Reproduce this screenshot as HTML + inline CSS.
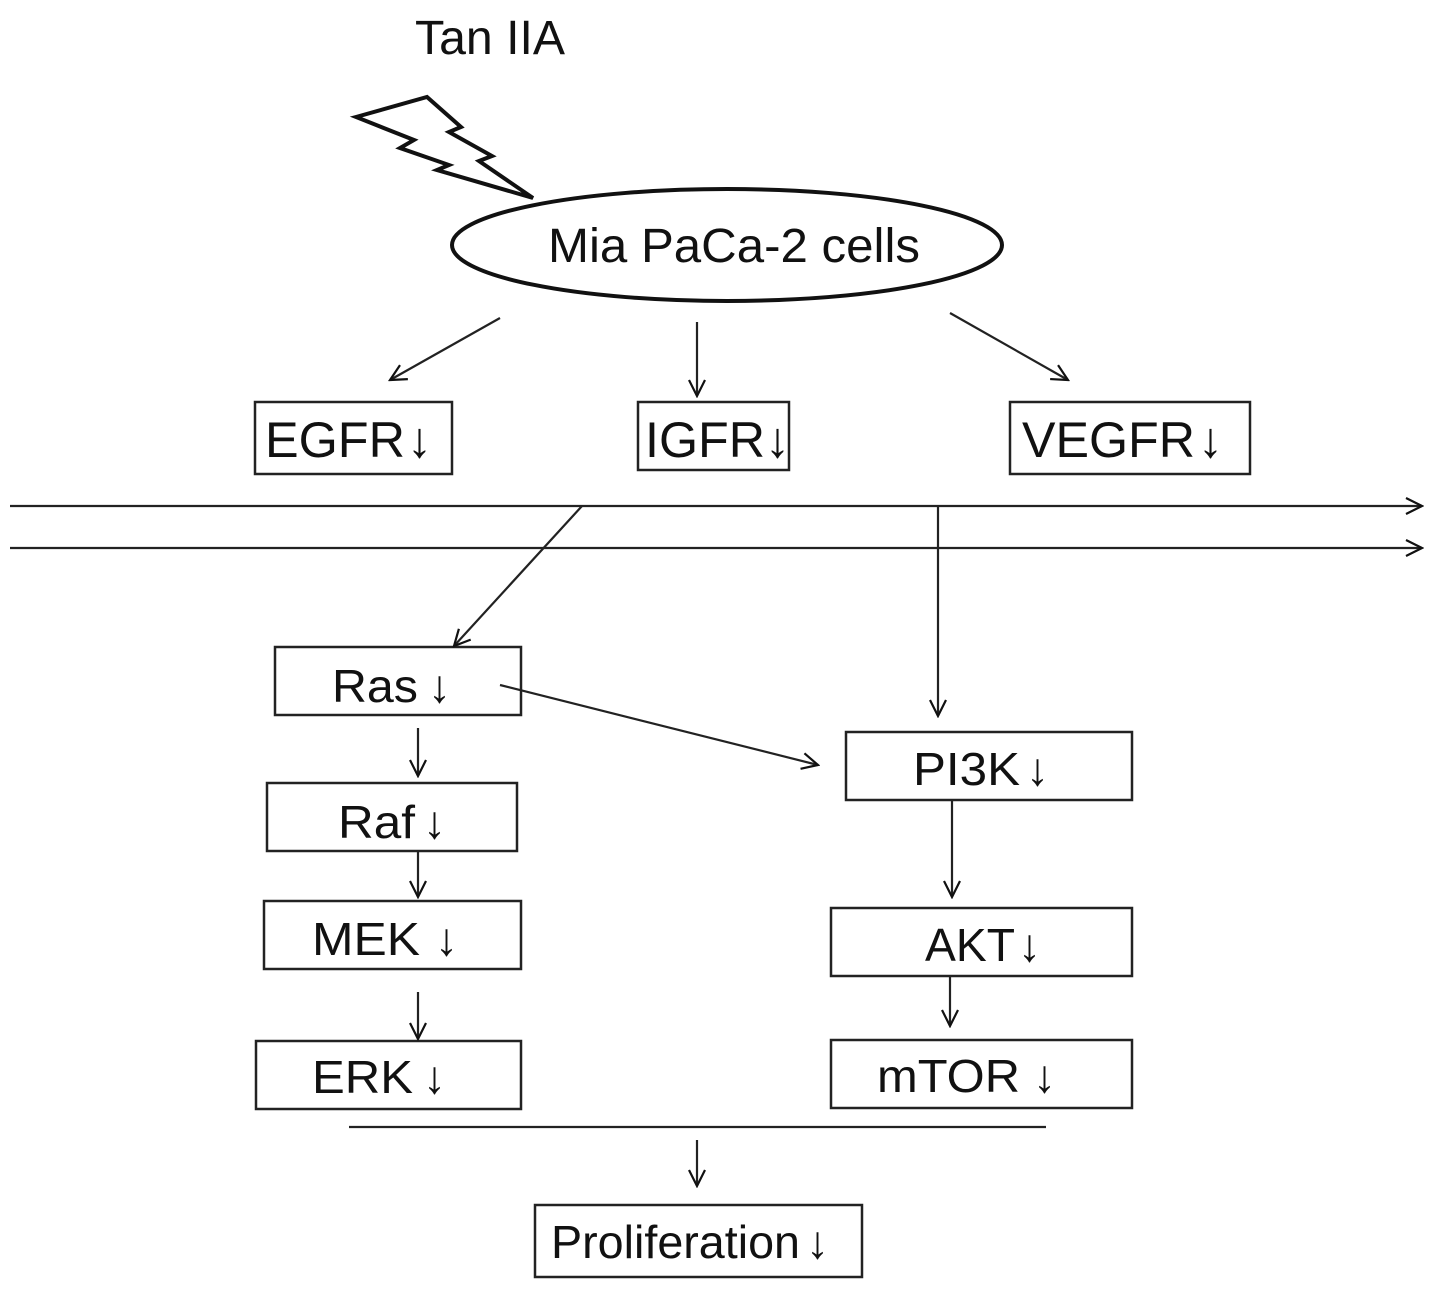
<!DOCTYPE html>
<html><head><meta charset="utf-8"><style>
html,body{margin:0;padding:0;background:#fff}
svg{display:block}
text{font-family:"Liberation Sans",sans-serif;fill:#111}
</style></head><body>
<svg width="1441" height="1293" viewBox="0 0 1441 1293" xmlns="http://www.w3.org/2000/svg">
<defs>
<marker id="a" viewBox="0 0 20 20" refX="18" refY="10" markerWidth="20" markerHeight="20" markerUnits="userSpaceOnUse" orient="auto">
<path d="M2,2 L18,10 L2,18" fill="none" stroke="#111" stroke-width="2.2"/>
</marker>
</defs>
<text x="415" y="54" font-size="48" textLength="150" lengthAdjust="spacingAndGlyphs">Tan IIA</text>
<polygon points="356,117 427,97 461,127 449,132 492,156 479,161 533,198 437,170 449,165 400,148 414,140" fill="none" stroke="#111" stroke-width="4" stroke-linejoin="miter"/>
<ellipse cx="727" cy="245" rx="275" ry="56" fill="none" stroke="#111" stroke-width="4"/>
<text x="548" y="262" font-size="48" textLength="372" lengthAdjust="spacingAndGlyphs">Mia PaCa-2 cells</text>
<g fill="none" stroke="#222" stroke-width="2.5">
<rect x="255" y="402" width="197" height="72"/>
<rect x="638" y="402" width="151" height="68"/>
<rect x="1010" y="402" width="240" height="72"/>
<rect x="275" y="647" width="246" height="68"/>
<rect x="267" y="783" width="250" height="68"/>
<rect x="264" y="901" width="257" height="68"/>
<rect x="256" y="1041" width="265" height="68"/>
<rect x="846" y="732" width="286" height="68"/>
<rect x="831" y="908" width="301" height="68"/>
<rect x="831" y="1040" width="301" height="68"/>
<rect x="535" y="1205" width="327" height="72"/>
</g>
<g font-size="50">
<text x="265" y="457" textLength="140" lengthAdjust="spacingAndGlyphs">EGFR</text><text x="407" y="457">↓</text>
<text x="645" y="457" textLength="120" lengthAdjust="spacingAndGlyphs">IGFR</text><text x="765" y="457">↓</text>
<text x="1022" y="457" textLength="173" lengthAdjust="spacingAndGlyphs">VEGFR</text><text x="1198" y="457">↓</text>
</g>
<g font-size="46">
<text x="332" y="702" textLength="86" lengthAdjust="spacingAndGlyphs">Ras</text><text x="428" y="702">↓</text>
<text x="338" y="838" textLength="77" lengthAdjust="spacingAndGlyphs">Raf</text><text x="423" y="838">↓</text>
<text x="312" y="955" textLength="108" lengthAdjust="spacingAndGlyphs">MEK</text><text x="435" y="955">↓</text>
<text x="312" y="1093" textLength="101" lengthAdjust="spacingAndGlyphs">ERK</text><text x="423" y="1093">↓</text>
<text x="913" y="785" textLength="107" lengthAdjust="spacingAndGlyphs">PI3K</text><text x="1026" y="785">↓</text>
<text x="925" y="961" textLength="90" lengthAdjust="spacingAndGlyphs">AKT</text><text x="1018" y="961">↓</text>
<text x="877" y="1092" textLength="143" lengthAdjust="spacingAndGlyphs">mTOR</text><text x="1033" y="1092">↓</text>
<text x="551" y="1258" textLength="249" lengthAdjust="spacingAndGlyphs">Proliferation</text><text x="806" y="1258">↓</text>
</g>
<g stroke="#222" stroke-width="2.2" fill="none" marker-end="url(#a)">
<line x1="10" y1="506" x2="1422" y2="506"/>
<line x1="10" y1="548" x2="1422" y2="548"/>
<line x1="500" y1="318" x2="390" y2="380"/>
<line x1="697" y1="322" x2="697" y2="396"/>
<line x1="950" y1="313" x2="1068" y2="380"/>
<line x1="582" y1="506" x2="454" y2="646"/>
<line x1="938" y1="506" x2="938" y2="716"/>
<line x1="500" y1="685" x2="818" y2="765"/>
<line x1="418" y1="728" x2="418" y2="776"/>
<line x1="418" y1="851" x2="418" y2="897"/>
<line x1="418" y1="992" x2="418" y2="1039"/>
<line x1="952" y1="800" x2="952" y2="897"/>
<line x1="950" y1="976" x2="950" y2="1026"/>
<line x1="697" y1="1140" x2="697" y2="1186"/>
</g>
<line x1="349" y1="1127" x2="1046" y2="1127" stroke="#222" stroke-width="2.2"/>
</svg>
</body></html>
